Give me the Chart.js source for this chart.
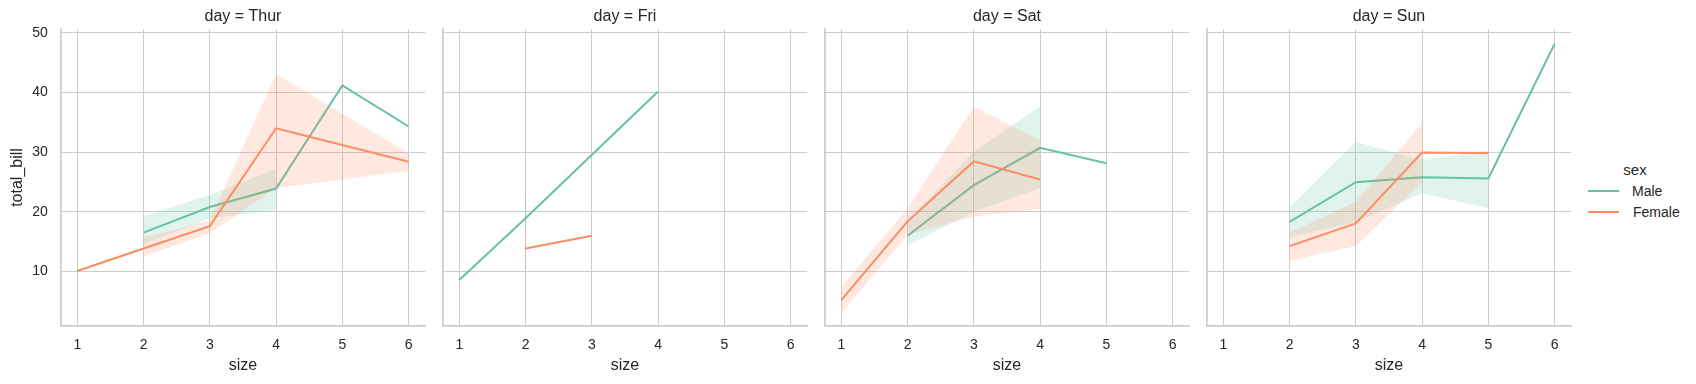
<!DOCTYPE html>
<html>
<head>
<meta charset="utf-8">
<title>total_bill by size, faceted by day</title>
<script src="https://cdn.jsdelivr.net/npm/chart.js@4.4.1/dist/chart.umd.min.js"></script>
<style>
  html, body { margin: 0; padding: 0; background: #fff; }
  #wrap { position: relative; width: 1696px; height: 384px; overflow: hidden; }
  canvas.facet { position: absolute; top: 0; }
  .lg { position: absolute; font-family: "Liberation Sans", Arial, sans-serif; color: #262626; white-space: nowrap; }
  .lg-title { left: 1605px; width: 60px; top: 161px; font-size: 15px; line-height: 18px; text-align: center; }
  .lg-line { position: absolute; left: 1588px; width: 31px; height: 2px; }
  .lg-text { font-size: 14px; line-height: 16px; }
</style>
</head>
<body>
<div id="wrap">
  <div class="lg lg-title">sex</div>
  <div class="lg-line" style="top:190px;background:#66c2a5"></div>
  <div class="lg lg-text" style="left:1632px;top:183px">Male</div>
  <div class="lg-line" style="top:211px;background:#fc8d62"></div>
  <div class="lg lg-text" style="left:1633px;top:204px">Female</div>
</div>
<script>
// ── Data ──
const days   = ["Thur", "Fri", "Sat", "Sun"];
const sexes  = ["Male", "Female"];
const xTicks = [1, 2, 3, 4, 5, 6];
const yTicks = [10, 20, 30, 40, 50];

// Thur
const thurMaleSize     = [2, 3, 4, 5, 6];
const thurMaleBill     = [16.5, 20.8, 23.9, 41.19, 34.3];
const thurMaleCiSize   = [2, 3, 4];
const thurMaleCiLow    = [14.6, 18.9, 20.3];
const thurMaleCiHigh   = [19.2, 22.8, 27.2];
const thurFemaleSize   = [1, 2, 3, 4, 6];
const thurFemaleBill   = [10.07, 13.85, 17.6, 34.0, 28.4];
const thurFemaleCiSize = [2, 3, 4, 6];
const thurFemaleCiLow  = [12.5, 16.4, 24.0, 26.9];
const thurFemaleCiHigh = [15.6, 18.6, 43.1, 29.8];

// Fri
const friMaleSize     = [1, 2, 4];
const friMaleBill     = [8.58, 18.9, 40.17];
const friMaleCiSize   = [2];
const friMaleCiLow    = [17.0];
const friMaleCiHigh   = [23.2];
const friFemaleSize   = [2, 3];
const friFemaleBill   = [13.85, 16.0];
const friFemaleCiSize = [2];
const friFemaleCiLow  = [10.2];
const friFemaleCiHigh = [16.9];

// Sat
const satMaleSize     = [2, 3, 4, 5];
const satMaleBill     = [15.98, 24.47, 30.73, 28.15];
const satMaleCiSize   = [2, 3, 4];
const satMaleCiLow    = [14.3, 20.0, 24.0];
const satMaleCiHigh   = [18.4, 30.1, 37.7];
const satFemaleSize   = [1, 2, 3, 4];
const satFemaleBill   = [5.2, 18.4, 28.45, 25.4];
const satFemaleCiSize = [1, 2, 3, 4];
const satFemaleCiLow  = [3.0, 16.1, 19.2, 20.5];
const satFemaleCiHigh = [7.4, 20.6, 37.6, 32.0];

// Sun
const sunMaleSize     = [2, 3, 4, 5, 6];
const sunMaleBill     = [18.3, 24.97, 25.8, 25.6, 48.17];
const sunMaleCiSize   = [2, 3, 4, 5];
const sunMaleCiLow    = [15.7, 18.3, 23.1, 20.6];
const sunMaleCiHigh   = [20.7, 31.7, 28.7, 30.3];
const sunFemaleSize   = [2, 3, 4, 5];
const sunFemaleBill   = [14.25, 18.04, 29.94, 29.85];
const sunFemaleCiSize = [2, 3, 4];
const sunFemaleCiLow  = [11.8, 14.25, 24.9];
const sunFemaleCiHigh = [16.5, 21.7, 34.9];

(function () {
  "use strict";

  const series = {
    Thur: { Male:   [thurMaleSize, thurMaleBill, thurMaleCiSize, thurMaleCiLow, thurMaleCiHigh],
            Female: [thurFemaleSize, thurFemaleBill, thurFemaleCiSize, thurFemaleCiLow, thurFemaleCiHigh] },
    Fri:  { Male:   [friMaleSize, friMaleBill, friMaleCiSize, friMaleCiLow, friMaleCiHigh],
            Female: [friFemaleSize, friFemaleBill, friFemaleCiSize, friFemaleCiLow, friFemaleCiHigh] },
    Sat:  { Male:   [satMaleSize, satMaleBill, satMaleCiSize, satMaleCiLow, satMaleCiHigh],
            Female: [satFemaleSize, satFemaleBill, satFemaleCiSize, satFemaleCiLow, satFemaleCiHigh] },
    Sun:  { Male:   [sunMaleSize, sunMaleBill, sunMaleCiSize, sunMaleCiLow, sunMaleCiHigh],
            Female: [sunFemaleSize, sunFemaleBill, sunFemaleCiSize, sunFemaleCiLow, sunFemaleCiHigh] },
  };

  // ── Style ──
  const LINE  = { Male: "#66c2a5", Female: "#fc8d62" };
  const BAND  = { Male: "rgba(102,194,165,0.2)", Female: "rgba(252,141,98,0.2)" };
  const EDGE  = { Male: "rgba(102,194,165,0.35)", Female: "rgba(252,141,98,0.35)" };
  const INK   = "#262626";
  const GRID  = "#cccccc";
  const FAMILY = '"Liberation Sans", Arial, sans-serif';

  const PANEL_STEP = 382;
  const CANVAS_W   = 440;
  const CANVAS_H   = 384;

  function pts(xs, ys) {
    return xs.map((x, k) => ({ x, y: ys[k] }));
  }

  function buildDatasets(day) {
    const ds = [];
    sexes.forEach((sex, s) => {
      const [size, bill, ciSize, lo, hi] = series[day][sex];
      const order = 10 - s * 4;
      if (ciSize.length > 1) {
        ds.push({ data: pts(ciSize, hi), borderColor: "rgba(0,0,0,0)", borderWidth: 0,
                  backgroundColor: BAND[sex], fill: "+1", order });
        ds.push({ data: pts(ciSize, lo), borderColor: "rgba(0,0,0,0)", borderWidth: 0,
                  fill: false, order });
      } else if (ciSize.length === 1) {
        ds.push({ data: [{ x: ciSize[0], y: lo[0] }, { x: ciSize[0], y: hi[0] }],
                  borderColor: EDGE[sex], borderWidth: 1, fill: false, order });
      }
      ds.push({ data: pts(size, bill), borderColor: LINE[sex], borderWidth: 2,
                fill: false, order: order - 1 });
    });
    return ds;
  }

  function buildPanel(day, i) {
    const canvas = document.createElement("canvas");
    canvas.className = "facet";
    canvas.width = CANVAS_W;
    canvas.height = CANVAS_H;
    canvas.style.left = (i * PANEL_STEP) + "px";
    canvas.style.width = CANVAS_W + "px";
    canvas.style.height = CANVAS_H + "px";
    document.getElementById("wrap").appendChild(canvas);

    const tickFont  = { family: FAMILY, size: 14 };
    const labelFont = { family: FAMILY, size: 16 };

    new Chart(canvas.getContext("2d"), {
      type: "line",
      data: { datasets: buildDatasets(day) },
      options: {
        responsive: false,
        animation: false,
        devicePixelRatio: 1,
        layout: { padding: { left: 0, right: 14.8, top: 0, bottom: 0 } },
        elements: { point: { radius: 0, hoverRadius: 0 }, line: { tension: 0 } },
        plugins: {
          legend: { display: false },
          tooltip: { enabled: false },
          title: {
            display: true, text: `day = ${day}`, fullSize: false, color: INK,
            font: { ...labelFont, weight: "normal" }, padding: { top: 6.9, bottom: 3.2 },
          },
        },
        scales: {
          x: {
            type: "linear", min: 0.75, max: 6.25,
            afterBuildTicks: s => { s.ticks = xTicks.map(v => ({ value: v })); },
            afterFit: s => { s.height = 58.3; },
            grid: { color: GRID, lineWidth: 1, drawTicks: false },
            border: { color: GRID, width: 1.75 },
            ticks: { color: INK, font: tickFont, padding: 10.9 },
            title: { display: true, text: "size", color: INK, font: labelFont,
                     padding: { top: 0, bottom: 8.8 } },
          },
          y: {
            type: "linear", min: 0.9, max: 50.6,
            afterBuildTicks: s => { s.ticks = yTicks.map(v => ({ value: v })); },
            afterFit: s => { s.width = 60.7; },
            grid: { color: GRID, lineWidth: 1, drawTicks: false },
            border: { color: GRID, width: 1.75 },
            ticks: { display: i === 0, color: INK, font: tickFont, padding: 13 },
            title: { display: i === 0, text: "total_bill", color: INK, font: labelFont,
                     padding: { top: 7.7, bottom: 0 } },
          },
        },
      },
    });
  }

  days.forEach(buildPanel);
})();
</script>
</body>
</html>
